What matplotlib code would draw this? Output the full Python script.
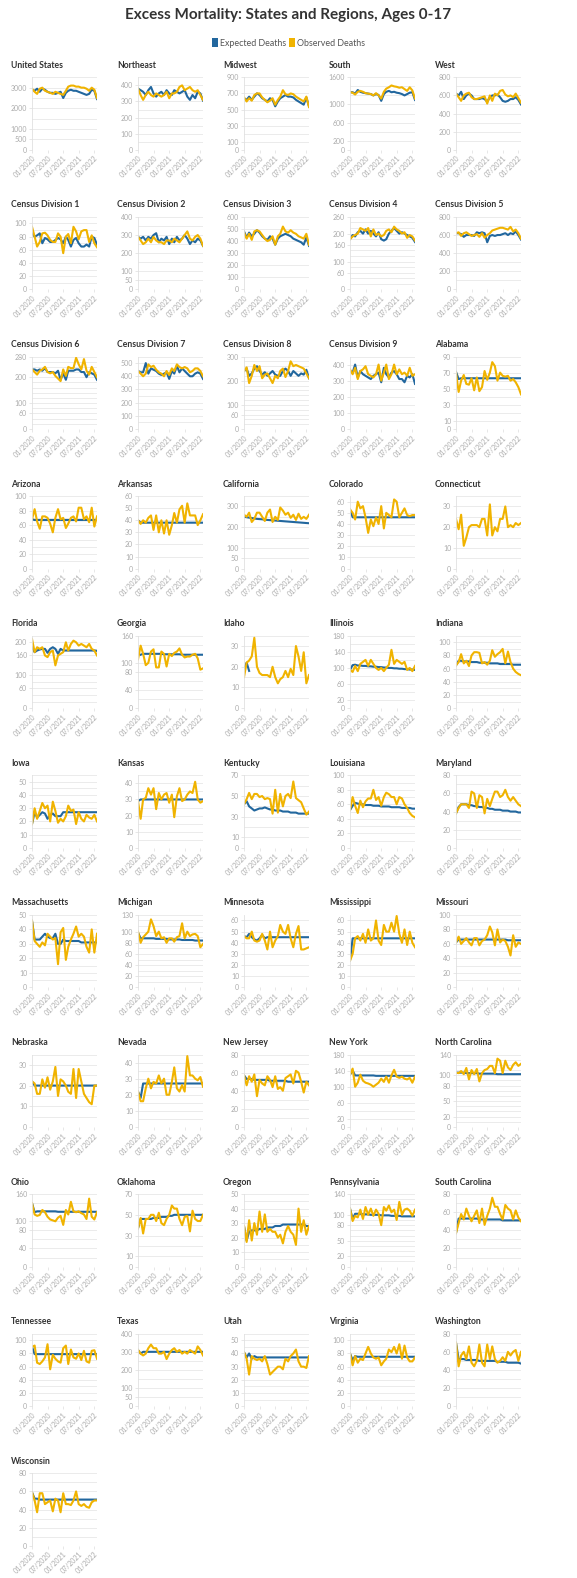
import numpy as np
import pandas as pd
import matplotlib
matplotlib.use("Agg")
import matplotlib.pyplot as plt
from matplotlib.patches import Patch
from math import gcd
from functools import reduce

plt.rcParams['font.family'] = ['Lato', 'DejaVu Sans']

# monthly points, 01/2020 .. 02/2022
months = pd.date_range('2020-01-01', periods=26, freq='MS')
tick_dates = pd.to_datetime(['2020-01-01', '2020-07-01', '2021-01-01', '2021-07-01', '2022-01-01'])
tick_labels = ['01/2020', '07/2020', '01/2021', '07/2021', '01/2022']

NA = np.nan

us_exp = [2900, 2850, 2950, 2800, 2950, 2900, 2800, 2750, 2750, 2700, 2750, 2800, 2500, 2750, 2850, 2900, 2850, 2850, 2800, 2750, 2700, 2650, 2700, 2900, 2850, 2450]
us_obs = [2950, 2800, 2700, 2950, 3000, 2850, 2800, 2750, 2700, 2800, 2750, 2700, 2650, 2850, 3050, 3100, 3100, 3050, 3050, 3000, 3000, 2950, 2850, 3000, 2900, 2500]
northeast_exp = [380, 370, 360, 340, 370, 390, 350, 330, 350, 360, 340, 370, 350, 340, 370, 360, 350, 360, 370, 330, 310, 340, 320, 360, 350, 305]
northeast_obs = [380, 340, 310, 340, 360, 340, 330, 350, 340, 330, 340, 360, 320, 350, 350, 360, 390, 400, 370, 380, 390, 370, 360, 370, 340, 310]
midwest_exp = [640, 620, 660, 620, 660, 700, 680, 640, 620, 600, 640, 620, 540, 600, 640, 660, 680, 660, 660, 650, 620, 600, 580, 560, 650, 540]
midwest_obs = [650, 600, 640, 610, 680, 700, 700, 650, 620, 590, 610, 640, 560, 620, 660, 740, 690, 680, 700, 690, 660, 640, 620, 600, 660, 530]
south_exp = [1270, 1270, 1240, 1320, 1280, 1260, 1250, 1240, 1230, 1200, 1230, 1210, 1080, 1230, 1280, 1300, 1270, 1280, 1260, 1250, 1230, 1200, 1230, 1260, 1270, 1100]
south_obs = [1270, 1260, 1220, 1280, 1300, 1280, 1250, 1240, 1230, 1200, 1250, 1200, 1130, 1280, 1350, 1380, 1420, 1400, 1390, 1370, 1380, 1340, 1300, 1380, 1310, 1130]
west_exp = [620, 600, 640, 560, 600, 620, 600, 560, 560, 560, 570, 560, 530, 580, 600, 600, 610, 580, 540, 530, 540, 560, 560, 580, 550, 500]
west_obs = [620, 580, 540, 600, 620, 630, 580, 560, 560, 570, 580, 590, 510, 600, 540, 620, 600, 650, 660, 610, 590, 600, 580, 620, 570, 520]

cd1_exp = [85, 80, 82, 85, 70, 78, 76, 72, 72, 75, 78, 76, 70, 80, 75, 65, 75, 78, 70, 65, 65, 68, 65, 80, 78, 68]
cd1_obs = [95, 80, 65, 72, 85, 86, 82, 75, 72, 72, 85, 80, 55, 80, 84, 70, 95, 88, 76, 88, 90, 90, 72, 82, 70, 64]
cd2_exp = [290, 280, 290, 270, 290, 280, 300, 310, 260, 280, 270, 290, 250, 280, 260, 290, 270, 280, 300, 280, 250, 270, 260, 280, 270, 240]
cd2_obs = [290, 270, 250, 260, 280, 260, 290, 270, 260, 260, 250, 270, 270, 260, 280, 270, 260, 280, 300, 320, 280, 270, 290, 300, 280, 240]
cd3_exp = [480, 430, 470, 440, 460, 490, 470, 440, 420, 410, 440, 420, 370, 420, 440, 450, 460, 450, 440, 420, 410, 400, 390, 370, 430, 360]
cd3_obs = [470, 420, 460, 410, 480, 490, 480, 450, 420, 400, 410, 440, 370, 440, 460, 520, 480, 470, 490, 470, 460, 440, 430, 420, 460, 370]
cd4_exp = [180, 195, 190, 205, 210, 200, 215, 200, 210, 200, 190, 205, 180, 175, 180, 200, 210, 220, 210, 200, 205, 200, 195, 190, 185, 170]
cd4_obs = [180, 190, 195, 200, 220, 215, 210, 220, 190, 215, 195, 200, 190, 195, 210, 215, 205, 225, 215, 210, 200, 205, 185, 195, 190, 175]
cd5_exp = [620, 620, 610, 580, 600, 600, 600, 590, 630, 620, 630, 620, 520, 590, 600, 590, 600, 600, 610, 620, 600, 620, 610, 640, 600, 550]
cd5_obs = [620, 630, 590, 620, 630, 610, 590, 600, 610, 580, 620, 570, 600, 620, 650, 660, 670, 680, 680, 670, 660, 690, 640, 660, 620, 560]
cd6_exp = [230, 230, 225, 230, 225, 235, 220, 220, 220, 215, 225, 190, 215, 190, 225, 225, 225, 230, 230, 220, 220, 200, 220, 215, 210, 190]
cd6_obs = [230, 220, 210, 225, 230, 240, 220, 215, 220, 205, 195, 185, 230, 205, 240, 235, 235, 275, 250, 230, 270, 225, 210, 240, 220, 200]
cd7_exp = [440, 430, 430, 500, 420, 460, 450, 440, 420, 410, 420, 430, 380, 440, 420, 480, 430, 460, 440, 420, 400, 400, 420, 430, 420, 380]
cd7_obs = [440, 420, 400, 420, 490, 470, 480, 450, 430, 420, 400, 440, 410, 460, 440, 490, 470, 460, 470, 460, 430, 440, 460, 460, 440, 400]
cd8_exp = [240, 250, 220, 230, 250, 260, 240, 225, 235, 220, 230, 240, 225, 220, 220, 240, 250, 240, 220, 240, 230, 220, 230, 225, 245, 210]
cd8_obs = [240, 255, 190, 220, 265, 240, 260, 210, 225, 230, 210, 190, 220, 210, 240, 250, 215, 240, 280, 260, 265, 260, 255, 250, 230, 210]
cd9_exp = [360, 350, 400, 320, 360, 340, 330, 320, 310, 330, 340, 350, 290, 380, 340, 320, 350, 360, 340, 310, 310, 290, 330, 320, 340, 280]
cd9_obs = [370, 340, 380, 310, 360, 370, 390, 340, 330, 320, 340, 400, 300, 350, 400, 310, 340, 400, 340, 370, 340, 350, 330, 380, 330, 340]

alabama_exp = [71, 62, 63, 63, 63, 63, 63, 63, 63, 63, 63, 63, 63, 63, 63, 63, 63, 63, 63, 63, 63, 63, 63, 63, 63, 63]
alabama_obs = [70, 46, 60, 67, 56, 55, 63, 48, 64, 47, 52, 72, 61, 70, 83, 78, 60, 70, 66, 65, 66, 60, 62, 58, 52, 43]
arizona_exp = [68, 67, 67, 67, 67, 67, 67, 67, 67, 67, 67, 67, 67, 67, 67, 67, 67, 67, 67, 67, 67, 67, 67, 67, 67, 67]
arizona_obs = [68, 82, 65, 55, 72, 72, 70, 62, 50, 70, 82, 68, 70, 56, 62, 70, 72, 65, 84, 84, 68, 72, 64, 84, 58, 72]
arkansas_exp = [40, 38, 38, 38, 38, 38, 38, 38, 38, 38, 38, 38, 38, 38, 38, 38, 38, 38, 38, 38, 38, 38, 38, 38, 38, 38]
arkansas_obs = [40, 37, 40, 38, 42, 44, 32, 44, 30, 40, 29, 40, 28, 36, 46, 38, 49, 52, 38, 54, 44, 44, 44, 36, 40, 45]
california_exp = [250, 248, 246, 244, 242, 240, 239, 238, 236, 235, 234, 233, 232, 231, 230, 229, 228, 227, 226, 225, 224, 223, 222, 221, 220, 219]
california_obs = [260, 250, 270, 225, 240, 270, 270, 250, 230, 270, 285, 225, 250, 235, 295, 280, 260, 270, 245, 260, 235, 265, 240, 250, 240, 260]
colorado_exp = [53, 46, 46, 46, 46, 46, 46, 46, 46, 46, 46, 46, 46, 46, 46, 46, 46, 46, 46, 46, 46, 46, 46, 46, 46, 46]
colorado_obs = [53, 50, 44, 60, 54, 56, 46, 32, 44, 38, 46, 40, 56, 36, 50, 48, 46, 62, 60, 46, 50, 54, 48, 47, 48, 48]
connecticut_exp = [NA] * 26
connecticut_obs = [24, 19, 26, 11, 15, 20, 21, 21, 21, 20, 24, 24, 16, 31, 16, 20, 18, 24, 24, 30, 20, 21, 20, 22, 21, 22]

florida_exp = [185, 170, 175, 178, 180, 180, 168, 180, 185, 180, 165, 180, 175, 175, 175, 175, 175, 175, 175, 175, 175, 175, 175, 175, 175, 174]
florida_obs = [210, 170, 185, 180, 185, 160, 155, 170, 175, 130, 160, 165, 170, 200, 175, 195, 205, 200, 190, 195, 190, 185, 195, 180, 175, 160]
georgia_exp = [NA, 118, 120, 120, 120, 120, 120, 120, 120, 120, 119, 119, 119, 119, 119, 119, 119, 118, 118, 118, 118, 118, 118, 118, 118, 118]
georgia_obs = [108, 138, 120, 95, 100, 125, 130, 90, 90, 125, 120, 92, 120, 115, 122, 125, 132, 118, 112, 114, 114, 118, 120, 110, 85, 88]
idaho_exp = [19, 22, 18] + [NA] * 23
idaho_obs = [15, 22, 23, 25, 34, 20, 17, 16, 16, 16, 15, 20, 15, 12, 14, 15, 18, 15, 19, 16, 30, 25, 18, 27, 12, 16]
illinois_exp = [95, 107, 108, 106, 106, 105, 105, 104, 104, 103, 103, 102, 102, 101, 101, 100, 100, 99, 99, 98, 98, 97, 97, 96, 96, 95]
illinois_obs = [95, 90, 105, 92, 110, 115, 120, 105, 120, 110, 100, 95, 100, 92, 100, 108, 145, 110, 120, 115, 110, 115, 95, 100, 92, 105]
indiana_exp = [65, 72, 72, 71, 71, 71, 70, 70, 70, 69, 69, 69, 69, 68, 68, 68, 68, 67, 67, 67, 67, 67, 66, 66, 66, 66]
indiana_obs = [65, 70, 82, 68, 72, 64, 80, 85, 85, 84, 68, 70, 66, 72, 88, 78, 82, 85, 90, 68, 86, 70, 60, 55, 52, 50]

iowa_exp = [18, 27, 23, 25, 27, 26, 22, 25, 26, 24, 24, 24, 27, 27, 27, 27, 27, 27, 27, 27, 27, 27, 27, 27, 27, 27]
iowa_obs = [18, 30, 22, 28, 34, 30, 32, 20, 35, 28, 19, 22, 20, 24, 32, 28, 29, 18, 27, 22, 20, 25, 23, 22, 25, 20]
kansas_exp = [29, 30, 30, 30, 30, 30, 30, 30, 30, 30, 30, 30, 30, 30, 30, 30, 30, 30, 30, 30, 30, 30, 30, 30, 30, 30]
kansas_obs = [29, 18, 30, 31, 37, 33, 37, 24, 34, 30, 33, 34, 28, 33, 19, 32, 37, 29, 30, 33, 35, 34, 41, 30, 28, 29]
kentucky_exp = [42, 45, 40, 38, 36, 37, 38, 38, 39, 38, 37, 37, 36, 36, 36, 35, 35, 35, 34, 34, 34, 33, 33, 33, 33, 33]
kentucky_obs = [42, 47, 53, 47, 52, 52, 49, 50, 47, 48, 47, 33, 56, 34, 52, 40, 50, 52, 48, 64, 48, 46, 44, 38, 32, 35]
louisiana_exp = [52, 58, 62, 61, 60, 60, 59, 59, 59, 58, 58, 58, 57, 57, 57, 57, 56, 56, 56, 56, 55, 55, 55, 55, 54, 54]
louisiana_obs = [52, 70, 58, 48, 65, 56, 64, 68, 68, 80, 66, 70, 58, 70, 76, 74, 70, 70, 60, 70, 68, 60, 55, 48, 44, 42]
maryland_exp = [38, 45, 48, 48, 48, 47, 47, 46, 46, 45, 45, 44, 44, 43, 43, 42, 42, 42, 41, 41, 41, 40, 40, 40, 39, 39]
maryland_obs = [38, 44, 48, 48, 48, 44, 62, 60, 44, 58, 56, 38, 54, 46, 54, 62, 62, 56, 58, 64, 56, 52, 56, 52, 48, 46]

massachusetts_exp = [46, 33, 33, 33, 35, 37, 35, 34, 34, 37, 30, 30, 33, 32, 32, 32, 32, 32, 32, 31, 31, 31, 31, 31, 31, 31]
massachusetts_obs = [46, 32, 30, 28, 31, 29, 37, 35, 33, 34, 16, 38, 41, 19, 28, 33, 37, 42, 35, 37, 35, 28, 24, 40, 24, 37]
michigan_exp = [98, 88, 88, 88, 88, 88, 88, 87, 87, 87, 87, 87, 86, 86, 86, 86, 86, 85, 85, 85, 85, 85, 84, 84, 84, 84]
michigan_obs = [100, 80, 90, 95, 100, 122, 110, 92, 100, 88, 90, 80, 88, 88, 82, 90, 92, 115, 88, 100, 92, 95, 96, 92, 72, 78]
minnesota_exp = [46, 45, 48, 45, 43, 42, 44, 47, 44, 45, 45, 45, 45, 45, 45, 45, 45, 45, 45, 45, 45, 45, 45, 45, 45, 45]
minnesota_obs = [46, 44, 44, 50, 42, 41, 42, 48, 42, 34, 50, 36, 42, 46, 56, 50, 48, 56, 44, 36, 48, 55, 34, 34, 35, 36]
mississippi_exp = [24, 44, 44, 44, 44, 44, 44, 44, 44, 44, 44, 44, 44, 44, 44, 44, 44, 44, 44, 44, 44, 44, 44, 44, 44, 44]
mississippi_obs = [24, 30, 44, 46, 42, 48, 40, 52, 42, 44, 60, 42, 38, 56, 50, 50, 58, 50, 64, 48, 40, 52, 38, 50, 40, 36]
missouri_exp = [62, 66, 66, 66, 66, 66, 66, 66, 66, 66, 66, 66, 66, 66, 66, 66, 66, 66, 66, 66, 65, 65, 65, 65, 65, 65]
missouri_obs = [62, 70, 60, 64, 68, 62, 58, 68, 68, 58, 64, 66, 72, 84, 76, 58, 80, 62, 66, 64, 56, 44, 72, 56, 62, 60]

nebraska_exp = [22, 20, 20, 20, 20, 20, 20, 20, 20, 20, 20, 20, 20, 20, 20, 20, 20, 20, 20, 20, 20, 20, 20, 20, 20, 20]
nebraska_obs = [22, 21, 16, 16, 23, 19, 24, 18, 22, 29, 15, 23, 22, 20, 17, 16, 28, 14, 28, 22, 16, 14, 12, 11, 20, 20]
nevada_exp = [22, 18, 27, 27, 27, 27, 27, 27, 27, 27, 27, 27, 27, 27, 27, 27, 27, 27, 27, 27, 27, 27, 27, 27, 27, 27]
nevada_obs = [22, 16, 16, 24, 30, 24, 28, 27, 32, 27, 30, 20, 20, 28, 37, 24, 22, 26, 22, 44, 32, 32, 30, 29, 31, 25]
new_jersey_exp = [57, 53, 53, 53, 52, 52, 52, 52, 52, 52, 51, 51, 51, 51, 51, 51, 51, 50, 50, 50, 50, 50, 50, 50, 50, 50]
new_jersey_obs = [57, 46, 56, 50, 58, 34, 52, 48, 46, 56, 52, 44, 56, 42, 44, 40, 54, 56, 58, 48, 62, 60, 50, 38, 50, 46]
new_york_exp = [130, 140, 128, 128, 128, 128, 128, 128, 128, 128, 127, 127, 127, 127, 127, 127, 127, 127, 127, 127, 127, 127, 127, 127, 127, 127]
new_york_obs = [130, 145, 100, 110, 130, 115, 110, 108, 105, 100, 105, 110, 120, 112, 125, 110, 128, 142, 125, 122, 125, 120, 118, 122, 110, 125]
north_carolina_exp = [105, 105, 105, 105, 104, 104, 104, 104, 104, 103, 103, 103, 103, 103, 103, 103, 102, 102, 102, 102, 102, 102, 102, 102, 102, 102]
north_carolina_obs = [105, 104, 108, 102, 114, 92, 110, 102, 112, 88, 104, 110, 112, 118, 118, 104, 132, 128, 104, 128, 115, 110, 120, 125, 118, 122]

ohio_exp = [140, 120, 122, 122, 122, 122, 122, 122, 122, 122, 121, 121, 121, 121, 121, 121, 121, 121, 121, 121, 121, 121, 121, 121, 121, 121]
ohio_obs = [140, 115, 112, 114, 125, 120, 110, 104, 102, 100, 108, 112, 92, 125, 115, 143, 122, 120, 122, 118, 115, 105, 150, 110, 104, 120]
oklahoma_exp = [37, 46, 46, 46, 46, 46, 47, 47, 47, 48, 48, 48, 49, 49, 50, 50, 50, 50, 50, 50, 50, 50, 50, 50, 50, 50]
oklahoma_obs = [37, 47, 32, 46, 46, 50, 50, 44, 52, 42, 40, 46, 50, 59, 56, 56, 46, 40, 48, 49, 34, 54, 46, 44, 44, 50]
oregon_exp = [28, 18, 24, 25, 25, 25, 26, 26, 26, 27, 27, 27, 28, 28, 28, 29, 29, 29, 29, 29, 29, 29, 29, 29, 28, 28]
oregon_obs = [28, 17, 32, 18, 30, 22, 38, 24, 36, 24, 26, 24, 24, 20, 22, 16, 24, 28, 24, 22, 15, 40, 24, 32, 22, 28]
pennsylvania_exp = [112, 92, 102, 102, 102, 101, 101, 101, 100, 100, 100, 100, 99, 99, 99, 99, 98, 98, 98, 98, 97, 97, 97, 97, 97, 97]
pennsylvania_obs = [112, 88, 98, 95, 110, 92, 115, 100, 112, 98, 110, 102, 80, 115, 108, 118, 105, 110, 90, 125, 100, 110, 112, 108, 98, 110]
south_carolina_exp = [37, 53, 53, 53, 53, 53, 53, 53, 53, 52, 52, 52, 52, 52, 52, 52, 52, 52, 51, 51, 51, 51, 51, 51, 51, 51]
south_carolina_obs = [37, 48, 58, 52, 64, 56, 50, 56, 62, 48, 64, 46, 56, 64, 76, 66, 66, 58, 52, 68, 64, 62, 52, 62, 54, 50]

tennessee_exp = [90, 79, 79, 79, 79, 79, 79, 79, 79, 79, 79, 79, 79, 79, 79, 79, 79, 79, 79, 79, 79, 79, 79, 79, 79, 79]
tennessee_obs = [90, 92, 66, 64, 68, 74, 94, 56, 78, 72, 68, 66, 88, 92, 64, 86, 74, 72, 80, 70, 84, 68, 66, 84, 85, 72]
texas_exp = [310, 290, 300, 300, 300, 300, 300, 300, 300, 300, 300, 300, 300, 300, 300, 300, 300, 300, 300, 300, 300, 300, 300, 300, 300, 300]
texas_obs = [310, 290, 280, 290, 320, 340, 320, 320, 290, 290, 300, 260, 290, 310, 320, 300, 310, 290, 300, 290, 310, 300, 290, 330, 310, 280]
utah_exp = [41, 37, 40, 36, 38, 37, 37, 37, 37, 37, 37, 37, 37, 37, 37, 37, 37, 37, 37, 37, 37, 37, 37, 37, 37, 37]
utah_obs = [41, 36, 24, 38, 36, 35, 36, 34, 38, 32, 24, 26, 28, 30, 30, 28, 36, 34, 38, 40, 43, 34, 30, 30, 29, 38]
virginia_exp = [80, 70, 76, 75, 75, 75, 75, 75, 75, 75, 75, 75, 75, 75, 75, 75, 75, 75, 75, 75, 75, 75, 75, 75, 75, 75]
virginia_obs = [80, 62, 76, 66, 72, 70, 80, 90, 80, 74, 72, 74, 62, 68, 72, 86, 82, 90, 80, 94, 72, 92, 74, 68, 68, 74]
washington_exp = [70, 52, 52, 52, 51, 51, 51, 51, 51, 50, 50, 50, 50, 50, 50, 50, 49, 49, 49, 49, 48, 48, 48, 48, 48, 47]
washington_obs = [70, 44, 56, 60, 52, 66, 48, 44, 50, 68, 48, 44, 68, 52, 66, 52, 48, 50, 54, 50, 60, 56, 60, 62, 50, 60]
wisconsin_exp = [59, 52, 52, 51, 51, 51, 51, 51, 51, 51, 51, 51, 51, 51, 51, 51, 51, 51, 51, 51, 51, 51, 51, 51, 51, 51]
wisconsin_obs = [59, 50, 37, 58, 58, 46, 48, 50, 38, 52, 50, 37, 58, 46, 46, 45, 50, 60, 46, 44, 46, 43, 42, 48, 50, 50]

# name, expected, observed, y tick labels, top of axis
panels = [
    ("United States", us_exp, us_obs, [0, 500, 1000, 2000, 3000], 3500),
    ("Northeast", northeast_exp, northeast_obs, [0, 100, 200, 300, 400], 450),
    ("Midwest", midwest_exp, midwest_obs, [0, 100, 300, 500, 700, 900], 900),
    ("South", south_exp, south_obs, [0, 200, 600, 1000, 1600], 1600),
    ("West", west_exp, west_obs, [0, 200, 400, 600, 800], 800),
    ("Census Division 1", cd1_exp, cd1_obs, [0, 20, 40, 60, 80, 100], 110),
    ("Census Division 2", cd2_exp, cd2_obs, [0, 50, 100, 200, 300, 400], 400),
    ("Census Division 3", cd3_exp, cd3_obs, [0, 100, 200, 300, 400, 500, 600], 600),
    ("Census Division 4", cd4_exp, cd4_obs, [0, 60, 100, 160, 200, 260], 260),
    ("Census Division 5", cd5_exp, cd5_obs, [0, 200, 400, 600, 800], 800),
    ("Census Division 6", cd6_exp, cd6_obs, [0, 60, 100, 200, 280], 280),
    ("Census Division 7", cd7_exp, cd7_obs, [0, 100, 200, 300, 400, 500], 550),
    ("Census Division 8", cd8_exp, cd8_obs, [0, 60, 100, 200, 300], 300),
    ("Census Division 9", cd9_exp, cd9_obs, [0, 100, 200, 300, 400], 450),
    ("Alabama", alabama_exp, alabama_obs, [0, 10, 30, 50, 70, 90], 90),
    ("Arizona", arizona_exp, arizona_obs, [0, 20, 40, 60, 80, 100], 100),
    ("Arkansas", arkansas_exp, arkansas_obs, [0, 10, 20, 30, 40, 50, 60], 60),
    ("California", california_exp, california_obs, [0, 50, 100, 200, 300], 350),
    ("Colorado", colorado_exp, colorado_obs, [0, 10, 20, 30, 40, 50, 60], 65),
    ("Connecticut", connecticut_exp, connecticut_obs, [0, 10, 20, 30], 35),
    ("Florida", florida_exp, florida_obs, [0, 60, 100, 160, 200], 220),
    ("Georgia", georgia_exp, georgia_obs, [0, 40, 80, 100, 160], 160),
    ("Idaho", idaho_exp, idaho_obs, [0, 10, 20, 30], 35),
    ("Illinois", illinois_exp, illinois_obs, [0, 20, 60, 100, 140, 180], 180),
    ("Indiana", indiana_exp, indiana_obs, [0, 20, 40, 60, 80, 100], 110),
    ("Iowa", iowa_exp, iowa_obs, [0, 10, 20, 30, 40, 50], 55),
    ("Kansas", kansas_exp, kansas_obs, [0, 10, 20, 30, 40], 45),
    ("Kentucky", kentucky_exp, kentucky_obs, [0, 10, 30, 50, 70], 70),
    ("Louisiana", louisiana_exp, louisiana_obs, [0, 20, 40, 60, 80, 100], 100),
    ("Maryland", maryland_exp, maryland_obs, [0, 20, 40, 60, 80], 80),
    ("Massachusetts", massachusetts_exp, massachusetts_obs, [0, 10, 20, 30, 40, 50], 50),
    ("Michigan", michigan_exp, michigan_obs, [0, 20, 40, 60, 80, 100, 130], 130),
    ("Minnesota", minnesota_exp, minnesota_obs, [0, 10, 20, 30, 40, 50, 60], 65),
    ("Mississippi", mississippi_exp, mississippi_obs, [0, 10, 20, 30, 40, 50, 60], 65),
    ("Missouri", missouri_exp, missouri_obs, [0, 20, 40, 60, 80, 100], 100),
    ("Nebraska", nebraska_exp, nebraska_obs, [0, 10, 20, 30], 35),
    ("Nevada", nevada_exp, nevada_obs, [0, 10, 20, 30, 40], 45),
    ("New Jersey", new_jersey_exp, new_jersey_obs, [0, 20, 40, 60, 80], 80),
    ("New York", new_york_exp, new_york_obs, [0, 20, 60, 100, 140, 180], 180),
    ("North Carolina", north_carolina_exp, north_carolina_obs, [0, 20, 50, 80, 100, 140], 140),
    ("Ohio", ohio_exp, ohio_obs, [0, 40, 80, 100, 160], 160),
    ("Oklahoma", oklahoma_exp, oklahoma_obs, [0, 10, 30, 50, 70], 70),
    ("Oregon", oregon_exp, oregon_obs, [0, 10, 20, 30, 40, 50], 50),
    ("Pennsylvania", pennsylvania_exp, pennsylvania_obs, [0, 20, 50, 80, 100, 140], 140),
    ("South Carolina", south_carolina_exp, south_carolina_obs, [0, 20, 40, 60, 80], 80),
    ("Tennessee", tennessee_exp, tennessee_obs, [0, 20, 40, 60, 80, 100], 110),
    ("Texas", texas_exp, texas_obs, [0, 50, 100, 200, 300, 400], 400),
    ("Utah", utah_exp, utah_obs, [0, 10, 20, 30, 40, 50], 55),
    ("Virginia", virginia_exp, virginia_obs, [0, 20, 40, 60, 80, 100], 110),
    ("Washington", washington_exp, washington_obs, [0, 20, 40, 60, 80], 80),
    ("Wisconsin", wisconsin_exp, wisconsin_obs, [0, 20, 40, 60, 80], 80),
]

BLUE = '#22679e'
GOLD = '#f0b300'
W, H = 577, 1578

fig = plt.figure(figsize=(W / 100, H / 100), dpi=100)

fig.text(0.5, 1 - 15 / H, 'Excess Mortality: States and Regions, Ages 0-17',
         ha='center', va='center', fontsize=11, fontweight='bold', color='#333333')
handles = [Patch(facecolor=BLUE, label='Expected Deaths'),
           Patch(facecolor=GOLD, label='Observed Deaths')]
fig.legend(handles=handles, loc='center', bbox_to_anchor=(0.5, 1 - 43 / H), ncol=2,
           frameon=False, fontsize=6.4, labelcolor='#555555', handlelength=0.7,
           handleheight=1.1, handletextpad=0.25, columnspacing=0.3)

for i, (name, exp, obs, ticks, top) in enumerate(panels):
    r, c = divmod(i, 5)
    x0 = 32 + 106 * c
    y_top = 77.3 + 139.6 * r
    ax = fig.add_axes([x0 / W, 1 - (y_top + 72.5) / H, 65 / W, 72.5 / H])

    step = reduce(gcd, [b - a for a, b in zip(ticks[:-1], ticks[1:])])
    if top / step < 6:
        step = step / 2
    for g in np.arange(0, top + 0.01, step):
        ax.axhline(g, color='#e8e8e8', lw=0.6, zorder=0)

    ax.plot(months, exp, color=BLUE, lw=1.5, solid_joinstyle='round')
    ax.plot(months, obs, color=GOLD, lw=1.5, solid_joinstyle='round')

    ax.set_ylim(0, top)
    ax.set_xlim(months[0], months[-1])
    ax.set_yticks(ticks)
    ax.set_xticks(tick_dates)
    ax.set_xticklabels(tick_labels, rotation=45, ha='right', rotation_mode='anchor')
    ax.tick_params(axis='both', labelsize=5, labelcolor='#ababab', color='#dddddd',
                   length=2, width=0.5, pad=1.5)
    for s in ['top', 'right', 'bottom']:
        ax.spines[s].set_visible(False)
    ax.spines['left'].set_color('#e0e0e0')
    ax.spines['left'].set_linewidth(0.6)
    ax.set_facecolor('none')

    fig.text((x0 - 21) / W, 1 - (y_top - 12) / H, name, ha='left', va='center',
             fontsize=6.2, fontweight='bold', color='#333333')

fig.savefig('out.png', dpi=100, facecolor='white')
